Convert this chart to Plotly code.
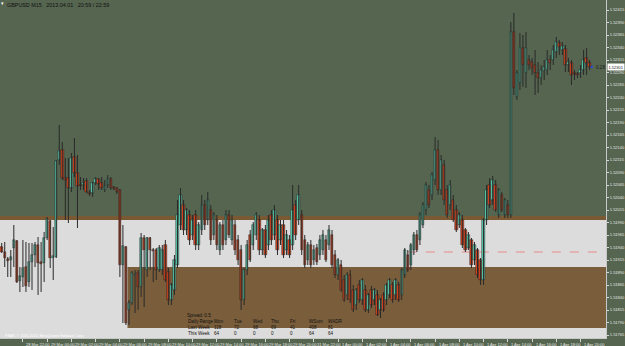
import plotly.graph_objects as go

# ---------------- data (GBPUSD M15, 28 Mar 20:15 -> 1 Apr 20:45) ----------------
open_ = [
    1.51941, 1.51931, 1.51917, 1.51915, 1.51939, 1.51953, 1.51873, 1.51881, 1.51901, 1.51871,
    1.51911, 1.51925, 1.51945, 1.51911, 1.51909, 1.51959, 1.51993, 1.51919, 1.51921, 1.52115,
    1.52135, 1.52079, 1.52079, 1.52059, 1.52121, 1.52089, 1.52065, 1.52065, 1.52073, 1.52049,
    1.52049, 1.52069, 1.52077, 1.52069, 1.52055, 1.52065, 1.52077, 1.52061, 1.52059, 1.52055,
    1.51905, 1.51941, 1.51815, 1.51829, 1.51885, 1.51889, 1.51861, 1.51959, 1.51895, 1.51959,
    1.51935, 1.51935, 1.51895, 1.51895, 1.51945, 1.51891, 1.51835, 1.51855, 1.51905, 1.51985,
    1.52025, 1.51975, 1.52005, 1.51965, 1.52005, 1.51945, 1.51975, 1.52025, 1.51995, 1.52015,
    1.51965, 1.51995, 1.51935, 1.51985, 1.51955, 1.52005, 1.51955, 1.51985, 1.51955, 1.51935,
    1.51835, 1.51895, 1.51965, 1.51945, 1.51965, 1.51995, 1.51935, 1.51975, 1.51945, 1.52005,
    1.51965, 1.51995, 1.51955, 1.51985, 1.51935, 1.51955, 1.51945, 1.52025, 1.51995, 1.52005,
    1.51955, 1.51915, 1.51945, 1.51915, 1.51939, 1.51925, 1.51935, 1.51955, 1.51945, 1.51965,
    1.51925, 1.51885, 1.51905, 1.51875, 1.51845, 1.51885, 1.51855, 1.51825, 1.51865, 1.51835,
    1.51855, 1.51815, 1.51855, 1.51835, 1.51845, 1.51815, 1.51845, 1.51835, 1.51845, 1.51865,
    1.51845, 1.51865, 1.51845, 1.51885, 1.51925, 1.51905, 1.51935, 1.51965, 1.51955, 1.51985,
    1.52015, 1.52055, 1.52045, 1.52075, 1.52135, 1.52055, 1.52105, 1.52055, 1.52025, 1.52035,
    1.52015, 1.51985, 1.51995, 1.51975, 1.51939, 1.51955, 1.51915, 1.51935, 1.51915, 1.51875,
    1.51995, 1.52065, 1.52035, 1.52065, 1.52005, 1.52045, 1.52005, 1.52025, 1.52005, 1.52371,
    1.52241, 1.52269, 1.52339, 1.52289, 1.52315, 1.52311, 1.52305, 1.52289, 1.52279, 1.52293,
    1.52295, 1.52315, 1.52315, 1.52331, 1.52349, 1.52335, 1.52337, 1.52305, 1.52309, 1.52289,
    1.52287, 1.52289, 1.52295, 1.52319, 1.52309,
]
high = [
    1.51949, 1.51951, 1.51921, 1.51935, 1.51985, 1.51955, 1.51901, 1.51955, 1.51951, 1.51949,
    1.51949, 1.51951, 1.51961, 1.51951, 1.51971, 1.52001, 1.51995, 1.51981, 1.52115, 1.52185,
    1.52151, 1.52119, 1.52119, 1.52129, 1.52159, 1.52125, 1.52081, 1.52079, 1.52079, 1.52055,
    1.52071, 1.52081, 1.52079, 1.52081, 1.52075, 1.52085, 1.52081, 1.52063, 1.52061, 1.52057,
    1.51985, 1.51943, 1.51835, 1.51893, 1.51895, 1.51895, 1.51969, 1.51965, 1.51961, 1.51961,
    1.51939, 1.51939, 1.51945, 1.51945, 1.51955, 1.51899, 1.51869, 1.51925, 1.52035, 1.52059,
    1.52035, 1.52019, 1.52015, 1.52005, 1.52015, 1.51991, 1.52045, 1.52035, 1.52051, 1.52025,
    1.52011, 1.52005, 1.51991, 1.51995, 1.52015, 1.52015, 1.52005, 1.51995, 1.51965, 1.51945,
    1.51899, 1.51955, 1.51975, 1.51991, 1.52011, 1.52005, 1.51979, 1.51985, 1.52005, 1.52015,
    1.52025, 1.52005, 1.51995, 1.51995, 1.51975, 1.51965, 1.52065, 1.52035, 1.52065, 1.52015,
    1.51965, 1.51951, 1.51955, 1.51945, 1.51947, 1.51965, 1.51975, 1.51965, 1.51985, 1.51975,
    1.51935, 1.51919, 1.51915, 1.51885, 1.51891, 1.51895, 1.51865, 1.51859, 1.51875, 1.51879,
    1.51865, 1.51849, 1.51863, 1.51859, 1.51855, 1.51839, 1.51851, 1.51869, 1.51879, 1.51871,
    1.51879, 1.51871, 1.51899, 1.51939, 1.51935, 1.51949, 1.51971, 1.51975, 1.52011, 1.52031,
    1.52071, 1.52065, 1.52091, 1.52161, 1.52155, 1.52125, 1.52115, 1.52065, 1.52075, 1.52045,
    1.52025, 1.52011, 1.52005, 1.51979, 1.51971, 1.51959, 1.51951, 1.51939, 1.51919, 1.51999,
    1.52065, 1.52079, 1.52083, 1.52075, 1.52059, 1.52051, 1.52039, 1.52035, 1.52391, 1.52409,
    1.52295, 1.52369, 1.52365, 1.52371, 1.52325, 1.52319, 1.52335, 1.52311, 1.52305, 1.52315,
    1.52335, 1.52325, 1.52345, 1.52361, 1.52355, 1.52351, 1.52345, 1.52319, 1.52315, 1.52295,
    1.52291, 1.52305, 1.52335, 1.52339, 1.52315,
]
low = [
    1.51929, 1.51901, 1.51881, 1.51881, 1.51901, 1.51869, 1.51851, 1.51861, 1.51851, 1.51861,
    1.51855, 1.51901, 1.51845, 1.51851, 1.51871, 1.51955, 1.51899, 1.51875, 1.51919, 1.52105,
    1.52075, 1.51995, 1.51989, 1.52051, 1.52081, 1.51979, 1.52055, 1.52055, 1.52049, 1.52043,
    1.52041, 1.52065, 1.52055, 1.52055, 1.52051, 1.52059, 1.52055, 1.52055, 1.52047, 1.51881,
    1.51789, 1.51785, 1.51785, 1.51825, 1.51809, 1.51815, 1.51841, 1.51821, 1.51881, 1.51895,
    1.51871, 1.51875, 1.51891, 1.51885, 1.51871, 1.51825, 1.51825, 1.51845, 1.51899, 1.51975,
    1.51965, 1.51965, 1.51945, 1.51955, 1.51935, 1.51935, 1.51965, 1.51975, 1.51985, 1.51945,
    1.51955, 1.51935, 1.51925, 1.51935, 1.51945, 1.51959, 1.51945, 1.51925, 1.51905, 1.51815,
    1.51825, 1.51885, 1.51911, 1.51935, 1.51955, 1.51925, 1.51925, 1.51919, 1.51935, 1.51945,
    1.51955, 1.51925, 1.51945, 1.51919, 1.51925, 1.51919, 1.51935, 1.51955, 1.51985, 1.51925,
    1.51899, 1.51905, 1.51899, 1.51905, 1.51905, 1.51915, 1.51925, 1.51911, 1.51935, 1.51899,
    1.51879, 1.51875, 1.51851, 1.51831, 1.51835, 1.51829, 1.51811, 1.51815, 1.51829, 1.51825,
    1.51811, 1.51809, 1.51819, 1.51825, 1.51803, 1.51799, 1.51811, 1.51825, 1.51839, 1.51829,
    1.51835, 1.51831, 1.51835, 1.51879, 1.51891, 1.51895, 1.51925, 1.51931, 1.51945, 1.51979,
    1.52005, 1.52019, 1.52035, 1.52065, 1.52045, 1.52045, 1.52025, 1.51999, 1.52015, 1.51991,
    1.51971, 1.51979, 1.51939, 1.51931, 1.51935, 1.51899, 1.51905, 1.51879, 1.51865, 1.51865,
    1.51985, 1.52019, 1.52025, 1.52011, 1.51999, 1.52011, 1.51999, 1.51999, 1.51999, 1.52245,
    1.52235, 1.52255, 1.52261, 1.52259, 1.52295, 1.52285, 1.52245, 1.52249, 1.52265, 1.52275,
    1.52285, 1.52295, 1.52305, 1.52319, 1.52325, 1.52325, 1.52291, 1.52291, 1.52265, 1.52275,
    1.52279, 1.52279, 1.52285, 1.52285, 1.52295,
]
close = [
    1.51931, 1.51919, 1.51913, 1.51921, 1.51955, 1.51871, 1.51883, 1.51899, 1.51863, 1.51911,
    1.51925, 1.51945, 1.51909, 1.51907, 1.51959, 1.51997, 1.51919, 1.51923, 1.52113, 1.52133,
    1.52079, 1.52075, 1.52059, 1.52119, 1.52089, 1.52063, 1.52063, 1.52069, 1.52051, 1.52047,
    1.52069, 1.52077, 1.52067, 1.52059, 1.52063, 1.52077, 1.52059, 1.52057, 1.52051, 1.51905,
    1.51943, 1.51789, 1.51829, 1.51889, 1.51887, 1.51861, 1.51959, 1.51935, 1.51959, 1.51935,
    1.51933, 1.51895, 1.51939, 1.51935, 1.51875, 1.51835, 1.51865, 1.51915, 1.52005, 1.52045,
    1.51975, 1.52015, 1.51955, 1.51995, 1.51945, 1.51985, 1.52025, 1.51985, 1.52035, 1.51955,
    1.52005, 1.51945, 1.51985, 1.51945, 1.52005, 1.51965, 1.51995, 1.51935, 1.51915, 1.51835,
    1.51895, 1.51945, 1.51915, 1.51985, 1.52005, 1.51935, 1.51975, 1.51925, 1.51995, 1.51955,
    1.52015, 1.51935, 1.51985, 1.51925, 1.51965, 1.51925, 1.52015, 1.51965, 1.52045, 1.51935,
    1.51905, 1.51945, 1.51905, 1.51935, 1.51911, 1.51955, 1.51965, 1.51915, 1.51975, 1.51905,
    1.51885, 1.51915, 1.51855, 1.51835, 1.51885, 1.51835, 1.51815, 1.51855, 1.51835, 1.51875,
    1.51815, 1.51845, 1.51825, 1.51855, 1.51805, 1.51835, 1.51815, 1.51865, 1.51875, 1.51835,
    1.51875, 1.51835, 1.51895, 1.51935, 1.51895, 1.51945, 1.51965, 1.51935, 1.52005, 1.52025,
    1.52065, 1.52025, 1.52085, 1.52135, 1.52055, 1.52115, 1.52035, 1.52005, 1.52065, 1.51995,
    1.51975, 1.52005, 1.51945, 1.51935, 1.51965, 1.51905, 1.51945, 1.51885, 1.51875, 1.51995,
    1.52055, 1.52025, 1.52075, 1.52015, 1.52055, 1.52015, 1.52035, 1.52005, 1.52371, 1.52259,
    1.52289, 1.52341, 1.52305, 1.52339, 1.52305, 1.52299, 1.52289, 1.52279, 1.52295, 1.52301,
    1.52315, 1.52309, 1.52335, 1.52351, 1.52341, 1.52343, 1.52305, 1.52311, 1.52285, 1.52287,
    1.52285, 1.52295, 1.52315, 1.52309, 1.52301,
]

time_label_bar = [-1, 7, 15, 23, 31, 39, 47, 55, 63, 71, 79, 87, 95, 103,
                  111, 119, 127, 135, 143, 151, 159, 167, 175, 183, 191]
time_labels = ["28 Mar 2013", "28 Mar 22:00", "29 Mar 00:00", "29 Mar 02:00",
               "29 Mar 04:00", "29 Mar 06:00", "29 Mar 08:00", "29 Mar 10:00",
               "29 Mar 12:00", "29 Mar 14:00", "29 Mar 16:00", "29 Mar 18:00",
               "29 Mar 20:00", "31 Mar 22:00", "1 Apr 00:00", "1 Apr 02:00",
               "1 Apr 04:00", "1 Apr 06:00", "1 Apr 08:00", "1 Apr 10:00",
               "1 Apr 12:00", "1 Apr 14:00", "1 Apr 16:00", "1 Apr 18:00",
               "1 Apr 20:00"]

price_ticks = [1.51765, 1.51790, 1.51815, 1.51840, 1.51865, 1.51890, 1.51915,
               1.51940, 1.51965, 1.51990, 1.52015, 1.52040, 1.52065, 1.52090,
               1.52115, 1.52140, 1.52165, 1.52190, 1.52215, 1.52240, 1.52265,
               1.52290, 1.52315, 1.52340, 1.52365, 1.52390, 1.52415]

# zones drawn on the chart (price levels / bar indices)
upper_zone_top = 1.52003
upper_zone_edge = 1.51995
lower_zone = (41.5, 1.51779, 1.51901)
dash_level = (134, 1.51931)

table_header = ["Daily Range", "Mon", "Tue", "Wed", "Thu", "Fri", "WSum", "WADR"]
table_last = ["Last Week", "118", "72", "68", "69", "41", "408", "81"]
table_this = ["This Week", "64", "0", "0", "0", "0", "64", "64"]
spread_text = "Spread: 0.5"

# ---------------- figure ----------------
W, H = 625, 346
PW, PH = 608, 338          # plot area size in px
Y0, Y1 = 1.51759, 1.52435
X0, X1 = -0.56, 199.4

BG = "#55654f"
BULL = "#5cd8b6"
BEAR = "#e8461c"
EDGE = "#1e1e1e"

n = len(open_)
xs = list(range(n))

wx, wy = [], []
for i in xs:
    wx += [i, i, None]
    wy += [low[i], high[i], None]

MINB = 0.000025
base = [min(o, c) for o, c in zip(open_, close)]
hgt = [max(abs(c - o), MINB) for o, c in zip(open_, close)]
cols = [BULL if c >= o else BEAR for o, c in zip(open_, close)]

fig = go.Figure()
fig.add_trace(go.Scatter(x=wx, y=wy, mode="lines",
                         line=dict(color="#2a2a2a", width=1),
                         hoverinfo="skip", showlegend=False))
fig.add_trace(go.Bar(x=xs, y=hgt, base=base, width=0.8,
                     marker=dict(color=cols, line=dict(color=EDGE, width=0.5)),
                     showlegend=False))

shapes = []
# light grey zone
shapes.append(dict(type="rect", xref="x", yref="y", x0=X0, x1=X1,
                   y0=Y0 - 0.0002, y1=upper_zone_edge, fillcolor="#dcdcdc",
                   line=dict(width=0), layer="below"))
shapes.append(dict(type="rect", xref="x", yref="y", x0=X0, x1=X1,
                   y0=upper_zone_edge, y1=upper_zone_top, fillcolor="#7a5a34",
                   line=dict(width=0), layer="below"))
# brown zone
shapes.append(dict(type="rect", xref="x", yref="y", x0=lower_zone[0], x1=X1,
                   y0=lower_zone[1], y1=lower_zone[2], fillcolor="#7a5d3b",
                   line=dict(width=0), layer="below"))
# dashed level
shapes.append(dict(type="line", xref="x", yref="y", x0=dash_level[0], x1=X1,
                   y0=dash_level[1], y1=dash_level[1],
                   line=dict(color="#e88a8a", width=1, dash="dash"), layer="below"))

ann = []
FONT = "Liberation Sans"


def px2paper(px, py):
    return px / PW, 1 - py / PH


# title
tx, ty = px2paper(5, 5)
ann.append(dict(xref="paper", yref="paper", x=tx, y=ty, xanchor="left", yanchor="middle",
                text="GBPUSD M15&nbsp;&nbsp;&nbsp;2013.04.01&nbsp;&nbsp;&nbsp;20:59 / 22:59",
                showarrow=False, font=dict(family=FONT, size=5.4, color="#111111")))
tx, ty = px2paper(2.5, 3)
ann.append(dict(xref="paper", yref="paper", x=tx, y=ty, xanchor="center", yanchor="middle",
                text="▾", showarrow=False, font=dict(family=FONT, size=5, color="#ffffff")))

# time labels
for b, t in zip(time_label_bar, time_labels):
    ann.append(dict(xref="x", yref="paper", x=b, y=0, xanchor="left", yanchor="top",
                    xshift=1.5, yshift=-1.5, text=t, showarrow=False,
                    font=dict(family=FONT, size=4, color="#e6e6e6")))

# table
col_x = [187, 213, 233, 252, 270, 289, 308, 327]
tx, ty = px2paper(186, 315)
ann.append(dict(xref="paper", yref="paper", x=tx, y=ty, xanchor="left", yanchor="middle",
                text=spread_text, showarrow=False,
                font=dict(family=FONT, size=4.6, color="#111111")))
for row, yy in ((table_header, 321), (table_last, 327), (table_this, 333)):
    for cx, t in zip(col_x, row):
        tx, ty = px2paper(cx, yy)
        ann.append(dict(xref="paper", yref="paper", x=tx, y=ty, xanchor="left",
                        yanchor="middle", text=t, showarrow=False,
                        font=dict(family=FONT, size=4.6, color="#111111")))

# copyright
tx, ty = px2paper(3, 335.5)
ann.append(dict(xref="paper", yref="paper", x=tx, y=ty, xanchor="left", yanchor="middle",
                text="PSAR, © 2001-2013, MetaQuotes Software Corp.", showarrow=False,
                font=dict(family=FONT, size=3.6, color="#ffffff")))

# last price marker and label
last = close[-1]
ann.append(dict(xref="x", yref="y", x=n - 1 + 1.6, y=last, xanchor="left", yanchor="middle",
                text="0.28", showarrow=False,
                font=dict(family=FONT, size=4.6, color="#1a1a1a")))
fig.add_trace(go.Scatter(x=[n - 1 + 0.7], y=[last], mode="markers",
                         marker=dict(symbol="triangle-left", size=3, color="#2040ff"),
                         hoverinfo="skip", showlegend=False))
ann.append(dict(xref="paper", yref="y", x=1.0, y=last, xanchor="left", yanchor="middle",
                text=f"{last:.5f}", showarrow=False, bgcolor="#ffffff",
                borderpad=0.5, xshift=1,
                font=dict(family=FONT, size=4, color="#111111")))

fig.update_layout(
    width=W, height=H,
    margin=dict(l=0, r=W - PW, t=0, b=H - PH),
    paper_bgcolor=BG, plot_bgcolor=BG,
    barmode="overlay", bargap=0,
    shapes=shapes, annotations=ann,
    showlegend=False,
    xaxis=dict(range=[X0, X1], showgrid=False, zeroline=False,
               tickmode="array", tickvals=time_label_bar, ticks="outside",
               ticklen=3, tickcolor="#d8d8d8", showticklabels=False,
               showline=True, linecolor="#c8c8c8", linewidth=1, fixedrange=True),
    yaxis=dict(range=[Y0, Y1], side="right", showgrid=False, zeroline=False,
               tickmode="array", tickvals=price_ticks,
               ticktext=[f"{p:.5f}" for p in price_ticks],
               ticks="outside", ticklen=2, tickcolor="#d8d8d8",
               tickfont=dict(family=FONT, size=4, color="#e6e6e6"),
               showline=True, linecolor="#c8c8c8", linewidth=1, fixedrange=True),
)

fig.write_html("out.html")
